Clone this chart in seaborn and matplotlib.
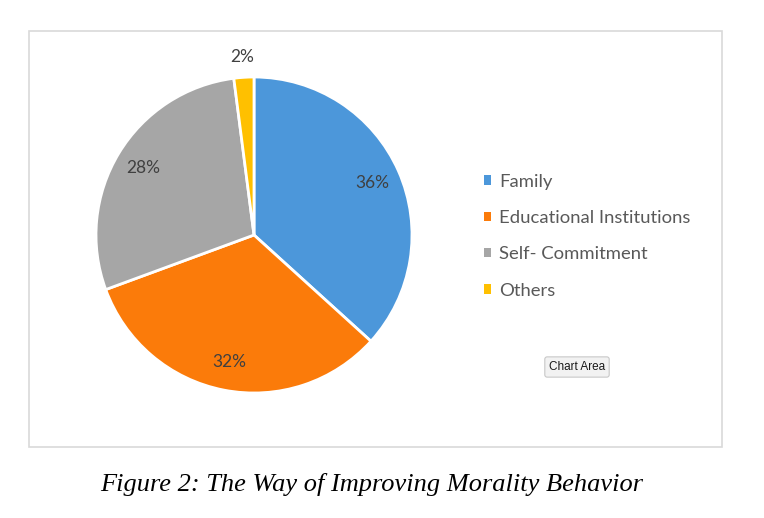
import numpy as np
import matplotlib
matplotlib.use("Agg")
import matplotlib.pyplot as plt
import matplotlib.patches as mpatches
import seaborn as sns

# datos del grafico
categorias = ['Family', 'Educational Institutions', 'Self- Commitment', 'Others']
valores = [36, 32, 28, 2]
colores = ['#4C97DA', '#FB7B0A', '#A6A6A6', '#FFC000']
titulo = 'Figure 2: The Way of Improving Morality Behavior'

sns.set_theme(style="white")
plt.rcParams['font.family'] = ['Lato', 'DejaVu Sans']

W, H = 764, 518
fig = plt.figure(figsize=(W / 100, H / 100), dpi=100)
fig.patch.set_facecolor('white')

# marco del area del grafico
fig.add_artist(mpatches.Rectangle((29 / W, 1 - 447 / H), 693 / W, 416 / H,
                                  transform=fig.transFigure, fill=False,
                                  edgecolor='#D9D9D9', linewidth=1.2))

# pastel: centro (254,235), radio 158 px, limites +-1.25
cx, cy, r = 254, 235, 158
lado = 2 * 1.25 * r
ax = fig.add_axes([(cx - lado / 2) / W, 1 - (cy + lado / 2) / H, lado / W, lado / H])
wedges, _ = ax.pie(valores, colors=colores, startangle=90, counterclock=False,
                   wedgeprops=dict(edgecolor='white', linewidth=2))

# etiquetas de porcentaje
for w, v in zip(wedges, valores):
    ang = np.deg2rad((w.theta1 + w.theta2) / 2)
    d = 1.13 if v < 5 else 0.82
    ax.text(d * np.cos(ang), d * np.sin(ang), f"{v}%", ha='center', va='center',
            fontsize=12.5, color='#404040', clip_on=False)

# leyenda
handles = [mpatches.Patch(facecolor=c, edgecolor='none') for c in colores]
fig.legend(handles, categorias, loc='upper left', bbox_to_anchor=(467 / W, 1 - 157 / H),
           frameon=False, fontsize=13.3, labelcolor='#595959', handlelength=0.4,
           handleheight=0.4, handletextpad=0.45, labelspacing=1.1)

# etiqueta "Chart Area"
fig.text(577 / W, 1 - 367 / H, 'Chart Area', ha='center', va='center', fontsize=8.5,
         family=['Liberation Sans', 'DejaVu Sans'], color='#1a1a1a',
         bbox=dict(boxstyle='round,pad=0.35,rounding_size=0.2', facecolor='#F2F2F2',
                   edgecolor='#C8C8C8', linewidth=0.8))

# pie de figura
fig.text(372 / W, 1 - 484 / H, titulo, ha='center', va='center', fontsize=19,
         style='italic', family=['Liberation Serif', 'DejaVu Serif'], color='black')

fig.savefig('out.png', dpi=100)
